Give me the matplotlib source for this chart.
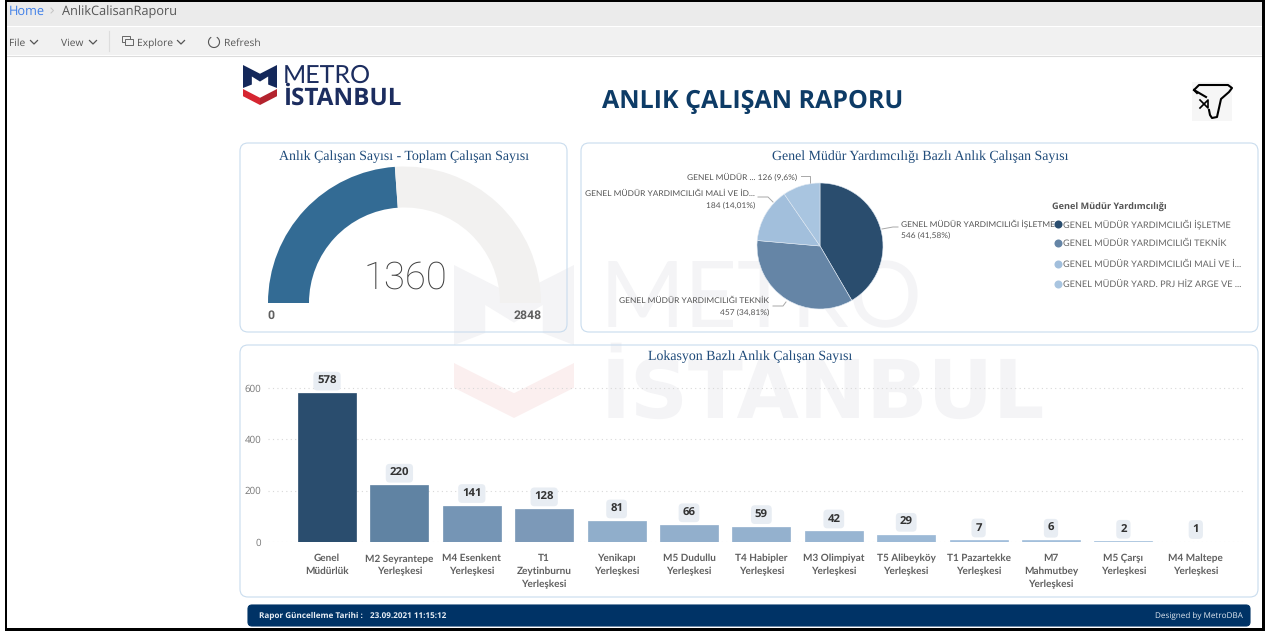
import matplotlib
matplotlib.use('Agg')
import matplotlib.pyplot as plt
from matplotlib.patches import FancyBboxPatch, Polygon, Rectangle, Arc

plt.rcParams['text.hinting'] = 'no_hinting'

W, H = 1268, 631

# gauge
current_staff = 1360
total_staff = 2848

# pie
pie_values = [546, 457, 184, 126]
pie_colors = ['#2a4d6e', '#6585a6', '#a2bfdc', '#a9c5e0']
legend_names = ['GENEL MÜDÜR YARDIMCILIĞI İŞLETME', 'GENEL MÜDÜR YARDIMCILIĞI TEKNİK',
                'GENEL MÜDÜR YARDIMCILIĞI MALİ VE İ...', 'GENEL MÜDÜR YARD. PRJ HİZ ARGE VE ...']

# bars
locations = ['Genel\nMüdürlük', 'M2 Seyrantepe\nYerleşkesi', 'M4 Esenkent\nYerleşkesi',
             'T1\nZeytinburnu\nYerleşkesi', 'Yenikapı\nYerleşkesi', 'M5 Dudullu\nYerleşkesi',
             'T4 Habipler\nYerleşkesi', 'M3 Olimpiyat\nYerleşkesi', 'T5 Alibeyköy\nYerleşkesi',
             'T1 Pazartekke\nYerleşkesi', 'M7\nMahmutbey\nYerleşkesi', 'M5 Çarşı\nYerleşkesi',
             'M4 Maltepe\nYerleşkesi']
staff = [578, 220, 141, 128, 81, 66, 59, 42, 29, 7, 6, 2, 1]
bar_colors = ['#2a4d6e', '#6083a3', '#7595b5', '#7c99b8', '#90aecb', '#92afcc', '#94b1ce',
              '#98b5d2', '#9cb9d6', '#a2bedb', '#a3bfdb', '#a5c1dd', '#a5c1dd']
y_ticks = [0, 200, 400, 600]

UI_FONT = ['Open Sans', 'DejaVu Sans']
LABEL_FONT = ['Lato', 'DejaVu Sans']
TITLE_COLOR = '#1f4b7a'
GRAY = '#5f5f5f'


def make_axes(x0, y0, x1, y1):
    # pixel box -> figure fractions
    a = fig.add_axes([x0 / W, 1 - y1 / H, (x1 - x0) / W, (y1 - y0) / H])
    a.patch.set_alpha(0)
    return a


def panel(x0, y0, x1, y1, fc, ec, lw=0.8, r=8):
    ax.add_patch(FancyBboxPatch((x0 + r, y0 + r), x1 - x0 - 2 * r, y1 - y0 - 2 * r,
                                boxstyle=f'round,pad={r},rounding_size={r}',
                                fc=fc, ec=ec, lw=lw, zorder=3))


def m_logo(x0, x1, m_top, m_bot, c_top, c_bot, top, red, red2=None):
    # metro logo, M on top of a chevron
    w = x1 - x0
    hm = m_bot - m_top
    hc = c_bot - c_top
    pts = [(0, 0), (.5, .38), (1, 0), (1, 1), (.74, .85), (.74, .5), (.5, .72), (.26, .5), (.26, .85), (0, 1)]
    ax.add_patch(Polygon([(x0 + a * w, m_top + b * hm) for a, b in pts], fc=top, ec='none', zorder=2))
    left = [(0, 0), (.5, .55), (.5, 1), (0, .45)]
    right = [(.5, .55), (1, 0), (1, .45), (.5, 1)]
    ax.add_patch(Polygon([(x0 + a * w, c_top + b * hc) for a, b in left], fc=red, ec='none', zorder=2))
    ax.add_patch(Polygon([(x0 + a * w, c_top + b * hc) for a, b in right], fc=red2 or red, ec='none', zorder=2))


fig = plt.figure(figsize=(W / 100, H / 100), dpi=100, facecolor='white')
ax = fig.add_axes([0, 0, 1, 1])
ax.set_xlim(0, W)
ax.set_ylim(H, 0)
ax.axis('off')

# browser bars
ax.add_patch(Rectangle((6, 2), 1257, 24, fc='#ebebeb', ec='none'))
ax.add_patch(Rectangle((6, 27), 1257, 28, fc='#f1f1f1', ec='none'))
ax.plot([6, 1263], [55.5, 55.5], color='#dcdcdc', lw=0.8)
ax.plot([108.5, 108.5], [31, 51], color='#dddddd', lw=0.8)
ax.text(9, 11.5, 'Home', color='#3f7fe8', fontsize=9.2, family=UI_FONT, va='center')
ax.plot([51, 53.5, 51], [8, 10.5, 13], color='#c4c4c4', lw=0.7)
ax.text(61.5, 11.5, 'AnlikCalisanRaporu', color='#555555', fontsize=9.2, family=UI_FONT, va='center')
for tx, label, cx in [(9, 'File', 34), (61, 'View', 93), (137, 'Explore', 181)]:
    ax.text(tx, 43.5, label, color='#555555', fontsize=7.4, family=UI_FONT, va='center')
    ax.plot([cx - 3.5, cx, cx + 3.5], [40.5, 44, 40.5], color='#555555', lw=0.9)
ax.add_patch(Rectangle((122, 36), 8, 6, fc='none', ec='#666666', lw=0.7))
ax.add_patch(Rectangle((125, 39), 8, 6, fc='#f1f1f1', ec='#666666', lw=0.7))
ax.add_patch(Arc((214, 42), 11, 11, theta1=-60, theta2=240, color='#555555', lw=0.8))
ax.text(224, 43.5, 'Refresh', color='#555555', fontsize=7.4, family=UI_FONT, va='center')

# watermark
ax.text(600, 327, 'METRO', color='#f4f4f6', fontsize=66, family=['Lato', 'DejaVu Sans'],
        va='baseline', ha='left', zorder=1)
ax.text(601, 418, 'İSTANBUL', color='#f4f4f6', fontsize=58, family=['DejaVu Sans'],
        weight='bold', va='baseline', ha='left', zorder=1)
m_logo(454, 574, 265, 345, 363, 418, '#f4f4f6', '#fbefef')

# header
m_logo(243, 277, 65, 88, 89, 105, '#14285a', '#d62631', '#b3232e')
ax.text(283, 83, 'METRO', color='#1c2d5f', fontsize=18, family=['Lato', 'DejaVu Sans'],
        va='baseline', zorder=4)
ax.text(283, 105, 'İSTANBUL', color='#1c2d5f', fontsize=17.5, family=UI_FONT, weight='bold',
        va='baseline', zorder=4)
ax.text(753, 101.5, 'ANLIK ÇALIŞAN RAPORU', color='#0d3b66', fontsize=18, family=UI_FONT,
        weight='bold', ha='center', va='center', zorder=4)

# clear filter icon
ax.add_patch(Rectangle((1192, 82), 40, 39, fc='#f6f6f6', ec='none', zorder=2))
ax.plot([1197, 1194, 1199, 1228, 1232, 1229, 1221, 1219, 1217, 1212, 1210, 1209],
        [93, 90, 85, 85, 88, 92, 99, 108, 117, 118, 115, 110], color='black', lw=1.5, zorder=4)
ax.plot([1194, 1206], [90, 97], color='black', lw=1.5, zorder=4)
ax.plot([1200, 1208, 1208, 1200], [100, 108, 100, 108], color='black', lw=1.2, zorder=4)

# panels
panel(240, 143, 567, 332, 'none', '#c9dcee')
panel(581, 143, 1258, 332, 'none', '#c9dcee')
panel(240, 345, 1258, 597, 'none', '#c9dcee')
panel(248, 605, 1250, 626, '#003366', '#003366', r=4)

serif = ['Liberation Serif', 'DejaVu Serif']
ax.text(404.5, 156.5, 'Anlık Çalışan Sayısı - Toplam Çalışan Sayısı', color=TITLE_COLOR,
        fontsize=10, family=serif, ha='center', va='center', zorder=4)
ax.text(920, 156.5, 'Genel Müdür Yardımcılığı Bazlı Anlık Çalışan Sayısı', color=TITLE_COLOR,
        fontsize=10, family=serif, ha='center', va='center', zorder=4)
ax.text(750, 357, 'Lokasyon Bazlı Anlık Çalışan Sayısı', color=TITLE_COLOR,
        fontsize=10, family=serif, ha='center', va='center', zorder=4)

# gauge
ax.text(405.5, 278, str(current_staff), color='#3f3f3f', fontsize=27.5,
        family=['Roboto', 'DejaVu Sans'], weight='light', ha='center', va='center', zorder=4)
ax.text(267, 315.5, '0', color=GRAY, fontsize=8.8, family=['Roboto', 'DejaVu Sans'], weight='bold',
        va='center', zorder=4)
ax.text(541.5, 315.5, str(total_staff), color=GRAY, fontsize=8.8, family=['Roboto', 'DejaVu Sans'],
        weight='bold', ha='right', va='center', zorder=4)
gauge = make_axes(268, 166.5, 541, 439.5)
gauge.pie([current_staff, total_staff - current_staff, total_staff], startangle=180, counterclock=False,
          colors=['#336b94', '#f2f1f0', 'none'], radius=1,
          wedgeprops=dict(width=41 / 136.5, linewidth=0))
gauge.set_xlim(-1, 1)
gauge.set_ylim(-1, 1)

# pie
pie_ax = make_axes(757, 183, 883, 309)
pie_ax.pie(pie_values, startangle=90, counterclock=False, colors=pie_colors, radius=1,
           wedgeprops=dict(linewidth=0.4, edgecolor='#dfe8f2'))
pie_ax.set_xlim(-1, 1)
pie_ax.set_ylim(-1, 1)

lab = dict(color='#555555', fontsize=6.0, family=LABEL_FONT, va='center', zorder=4)
ax.text(797, 177.5, f'GENEL MÜDÜR ... {pie_values[3]} (9,6%)', ha='right', **lab)
ax.text(755, 193.5, 'GENEL MÜDÜR YARDIMCILIĞI MALİ VE İD...', ha='right', **lab)
ax.text(755, 205.5, f'{pie_values[2]} (14,01%)', ha='right', **lab)
ax.text(769, 301, 'GENEL MÜDÜR YARDIMCILIĞI TEKNİK', ha='right', **lab)
ax.text(769, 313, f'{pie_values[1]} (34,81%)', ha='right', **lab)
ax.text(901, 223.5, 'GENEL MÜDÜR YARDIMCILIĞI İŞLETME', ha='left', **lab)
ax.text(901, 235.5, f'{pie_values[0]} (41,58%)', ha='left', **lab)
for xs, ys in [([801, 810, 810], [176, 176, 183]), ([758, 768, 773], [197, 197, 202]),
               ([773, 783, 786], [306, 306, 302]), ([882, 893, 898], [229, 227, 227])]:
    ax.plot(xs, ys, color='#a8a8a8', lw=0.7, zorder=4)

ax.text(1052, 207.5, 'Genel Müdür Yardımcılığı', color='#555555', fontsize=6.6, family=UI_FONT,
        weight='bold', va='center', zorder=4)
for name, c, yy in zip(legend_names, pie_colors, [223.5, 243, 263.5, 284]):
    ax.plot([1058], [yy], 'o', color=c, ms=5.8, mec='none', zorder=4)
    ax.text(1063, yy + 0.5, name, color='#666666', fontsize=6.6, family=LABEL_FONT, va='center', zorder=4)

# bars
bar_ax = make_axes(268, 370, 1245, 542)
xpos = list(range(len(staff)))
bar_ax.bar(xpos, staff, width=0.8, color=bar_colors, edgecolor=bar_colors, lw=0.5, zorder=3)
bar_ax.set_xlim((268 - 327) / 72.4, (1245 - 327) / 72.4)
bar_ax.set_ylim(0, 172 / 154.3 * 600)
bar_ax.set_yticks(y_ticks)
bar_ax.set_xticks(xpos)
bar_ax.set_xticklabels(locations, fontsize=7.2, color=GRAY, family=LABEL_FONT, weight='bold',
                       linespacing=1.5)
bar_ax.tick_params(axis='x', length=0, pad=8.5)
bar_ax.tick_params(axis='y', length=0, pad=5, labelsize=7, labelcolor='#777777')
for t in bar_ax.get_yticklabels():
    t.set_family(UI_FONT)
bar_ax.grid(axis='y', color='#d8d8d8', linestyle=(0, (1, 3)), lw=0.8, zorder=0)
bar_ax.set_axisbelow(True)
bar_ax.spines[['top', 'right', 'left', 'bottom']].set_visible(False)
for i, v in enumerate(staff):
    bar_ax.annotate(str(v), (i, v), xytext=(0, 8.8), textcoords='offset points', ha='center', va='center',
                    fontsize=8.2, weight='bold', color='#333333', family=UI_FONT, zorder=5,
                    bbox=dict(boxstyle='round,pad=0.34', fc='#e8edf3', ec='none'))

# footer text
ax.text(259, 616, 'Rapor Güncelleme Tarihi :', color='#e8eef5', fontsize=5.9, family=UI_FONT,
        weight='bold', va='center', zorder=4)
ax.text(370, 616, '23.09.2021 11:15:12', color='#e8eef5', fontsize=5.9, family=UI_FONT,
        weight='bold', va='center', zorder=4)
ax.text(1243, 616, 'Designed by MetroDBA', color='#dfe7f0', fontsize=5.9, family=UI_FONT,
        ha='right', va='center', zorder=4)

# screenshot border
ax.add_patch(Rectangle((5, 0), 1258.5, 2, fc='black', ec='none', zorder=6))
ax.add_patch(Rectangle((5, 0), 2, 631, fc='black', ec='none', zorder=6))
ax.add_patch(Rectangle((1262, 0), 2.5, 631, fc='black', ec='none', zorder=6))
ax.add_patch(Rectangle((5, 627.5), 1259.5, 3.5, fc='black', ec='none', zorder=6))

plt.savefig('out.png', dpi=100)
